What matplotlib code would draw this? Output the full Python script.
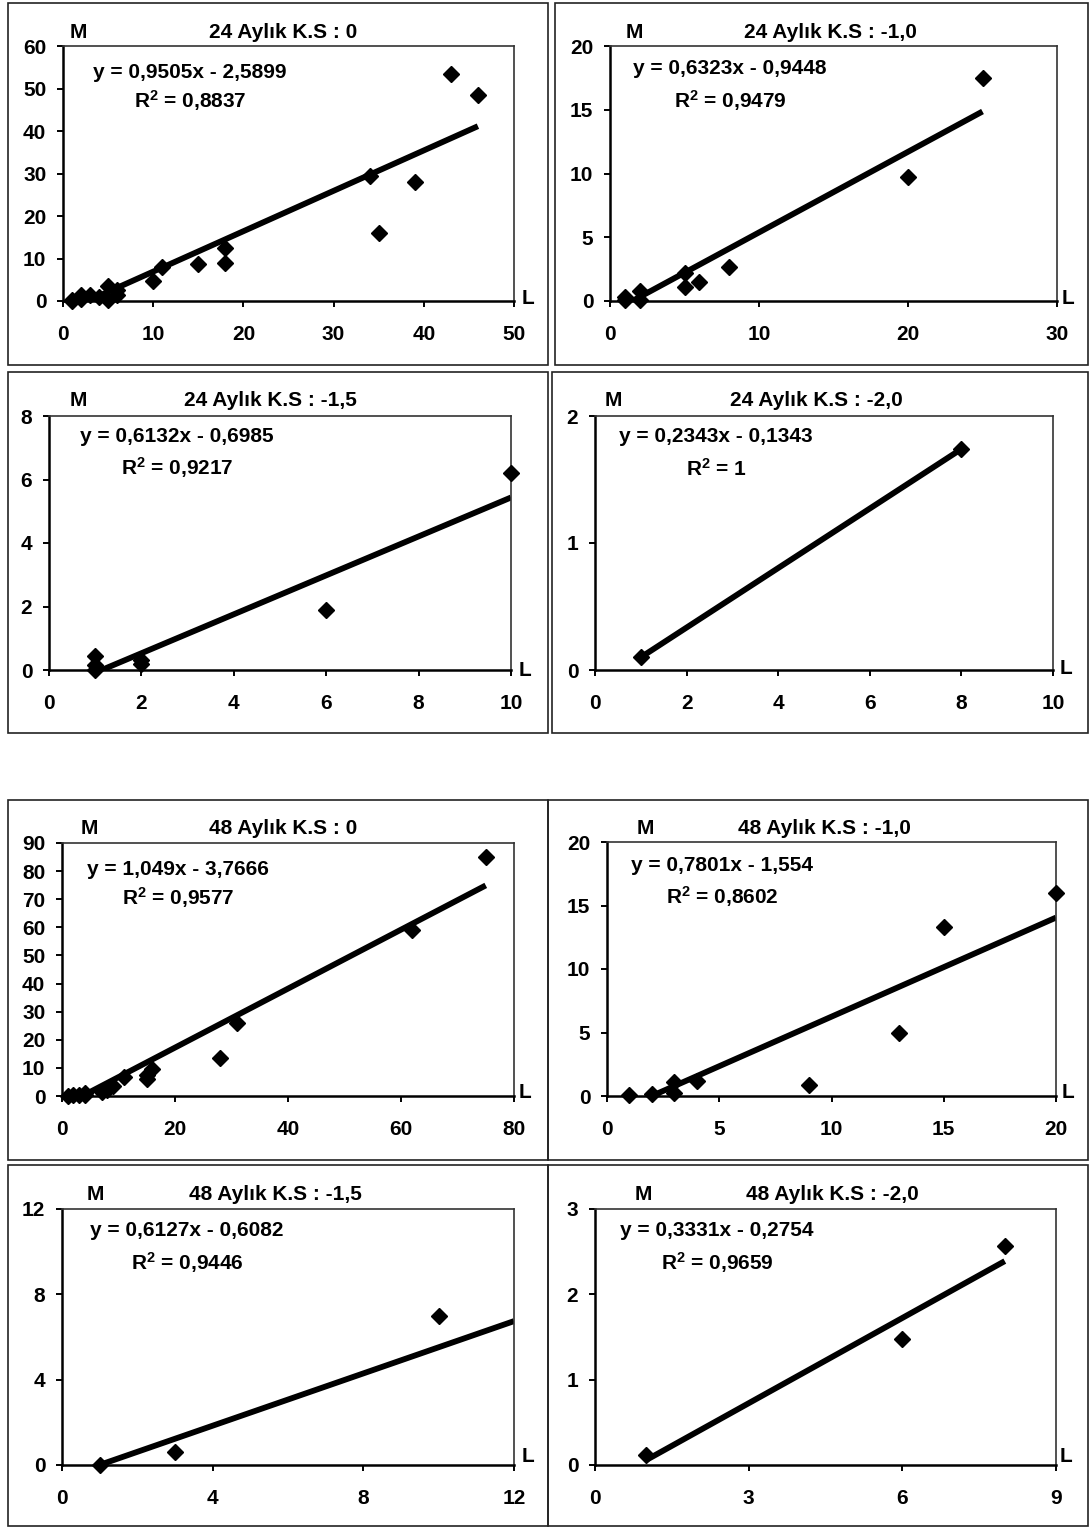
import matplotlib.pyplot as plt
from matplotlib.patches import Rectangle
import numpy as np

plt.rcParams['font.family'] = ['Liberation Sans', 'DejaVu Sans']
plt.rcParams['font.weight'] = 'bold'
plt.rcParams['mathtext.fontset'] = 'custom'
plt.rcParams['mathtext.rm'] = 'Liberation Sans:bold'
plt.rcParams['mathtext.default'] = 'rm'

titles = ['24 Aylık K.S : 0', '24 Aylık K.S : -1,0', '24 Aylık K.S : -1,5', '24 Aylık K.S : -2,0',
          '48 Aylık K.S : 0', '48 Aylık K.S : -1,0', '48 Aylık K.S : -1,5', '48 Aylık K.S : -2,0']

# L (x) ve M (y) degerleri
l_24_0 = [1, 1, 2, 2, 3, 4, 5, 5, 6, 6, 10, 11, 15, 18, 18, 34, 35, 39, 43, 46]
m_24_0 = [0, 0.3, 1.5, 0.5, 1.5, 1, 3.5, 0.3, 2.5, 1.5, 4.7, 8, 8.8, 12.5, 9, 29.5, 16, 28, 53.5, 48.5]
l_24_10 = [1, 1, 2, 2, 5, 5, 6, 8, 20, 25]
m_24_10 = [0.3, 0.1, 0.8, 0.1, 2.2, 1.1, 1.5, 2.7, 9.7, 17.5]
l_24_15 = [1, 1, 1, 2, 2, 6, 10]
m_24_15 = [0.45, 0.15, 0, 0.3, 0.2, 1.9, 6.2]
l_24_20 = [1, 8]
m_24_20 = [0.1, 1.74]
l_48_0 = [1, 2, 3, 4, 4, 7, 8, 9, 11, 15, 15, 16, 28, 31, 62, 75]
m_48_0 = [0, 0.5, 0.3, 0.5, 1.2, 1.5, 2, 3.5, 6.6, 6, 7.5, 9.5, 13.5, 26, 59, 85]
l_48_10 = [1, 2, 3, 3, 4, 9, 13, 15, 20]
m_48_10 = [0.1, 0.15, 1.1, 0.2, 1.15, 0.9, 5, 13.3, 16]
l_48_15 = [1, 3, 10]
m_48_15 = [0, 0.6, 7]
l_48_20 = [1, 6, 8]
m_48_20 = [0.12, 1.48, 2.57]

l_vals = [l_24_0, l_24_10, l_24_15, l_24_20, l_48_0, l_48_10, l_48_15, l_48_20]
m_vals = [m_24_0, m_24_10, m_24_15, m_24_20, m_48_0, m_48_10, m_48_15, m_48_20]

slopes = [0.9505, 0.6323, 0.6132, 0.2343, 1.049, 0.7801, 0.6127, 0.3331]
intercepts = [-2.5899, -0.9448, -0.6985, -0.1343, -3.7666, -1.554, -0.6082, -0.2754]
r2 = ['0,8837', '0,9479', '0,9217', '1', '0,9577', '0,8602', '0,9446', '0,9659']
trend_end = [46, 25, 10, 8, 75, 20, 12, 8]

x_max = [50, 30, 10, 10, 80, 20, 12, 9]
x_step = [10, 10, 2, 2, 20, 5, 4, 3]
y_max = [60, 20, 8, 2, 90, 20, 12, 3]
y_step = [10, 5, 2, 1, 10, 5, 4, 1]

# yerlesim (piksel): grafik alani, cerceve, baslik, M, L, denklem
axes_px = [(63, 46, 514, 301), (610, 46, 1057, 301), (49, 416, 511, 670), (595, 416, 1053, 670),
           (62, 843, 514, 1096), (607, 842, 1056, 1096), (62, 1209, 514, 1465), (595, 1209, 1056, 1465)]
frame_px = [(8, 3, 548, 365), (555, 3, 1088, 365), (8, 372, 548, 733), (552, 372, 1088, 733),
            (8, 800, 548, 1160), (548, 800, 1088, 1160), (8, 1165, 548, 1526), (548, 1165, 1088, 1526)]
title_px = [(283, 33), (830, 33), (270, 400), (816, 400), (283, 829), (824, 829), (275, 1195), (832, 1195)]
m_px = [78, 634, 78, 613, 89, 645, 95, 643]
lbl_px = [(528, 298), (1068, 298), (525, 670), (1066, 668), (525, 1092), (1068, 1092), (528, 1456), (1066, 1456)]
eq_px = [(190, 72, 101), (730, 69, 101), (177, 437, 468), (716, 437, 469),
         (178, 869, 898), (722, 866, 897), (187, 1231, 1263), (717, 1231, 1263)]

W, H = 1092, 1527
FS = 15
fig = plt.figure(figsize=(W / 100, H / 100), dpi=100)


def fx(px):
    return px / W


def fy(py):
    return 1 - py / H


def num(v):
    return str(v).replace('.', ',')


for i in range(8):
    l, t, r, b = axes_px[i]
    ax = fig.add_axes([fx(l), fy(b), (r - l) / W, (b - t) / H])
    ax.set_xlim(0, x_max[i])
    ax.set_ylim(0, y_max[i])
    ax.set_xticks(range(0, x_max[i] + 1, x_step[i]))
    ax.set_yticks(range(0, y_max[i] + 1, y_step[i]))
    ax.tick_params(axis='x', direction='out', length=4, width=1.4, pad=13, labelsize=FS)
    ax.tick_params(axis='y', direction='out', length=4, width=1.4, pad=8, labelsize=FS)
    for s in ['left', 'bottom']:
        ax.spines[s].set_linewidth(1.8)
    for s in ['top', 'right']:
        ax.spines[s].set_linewidth(1.2)
        ax.spines[s].set_color('#333333')

    # trend cizgisi
    xs = np.array([min(l_vals[i]), trend_end[i]])
    ax.plot(xs, slopes[i] * xs + intercepts[i], color='black', lw=4.2, solid_capstyle='butt')
    ax.plot(l_vals[i], m_vals[i], 'D', color='black', ms=8.5, clip_on=False, zorder=3)

    fl, ft, fr, fb = frame_px[i]
    fig.add_artist(Rectangle((fx(fl), fy(fb)), (fr - fl) / W, (fb - ft) / H,
                             transform=fig.transFigure, fill=False, lw=1.2, ec='#222222'))

    tx, ty = title_px[i]
    fig.text(fx(tx), fy(ty), titles[i], ha='center', va='center', fontsize=FS)
    fig.text(fx(m_px[i]), fy(ty), 'M', ha='center', va='center', fontsize=FS)
    lx, ly = lbl_px[i]
    fig.text(fx(lx), fy(ly), 'L', ha='center', va='center', fontsize=FS)

    ex, ey, ry = eq_px[i]
    eq = 'y = %sx - %s' % (num(slopes[i]), num(-intercepts[i]))
    fig.text(fx(ex), fy(ey), eq, ha='center', va='center', fontsize=FS)
    fig.text(fx(ex), fy(ry), 'R$^2$ = ' + r2[i], ha='center', va='center', fontsize=FS)

fig.savefig('out.png', dpi=100)
